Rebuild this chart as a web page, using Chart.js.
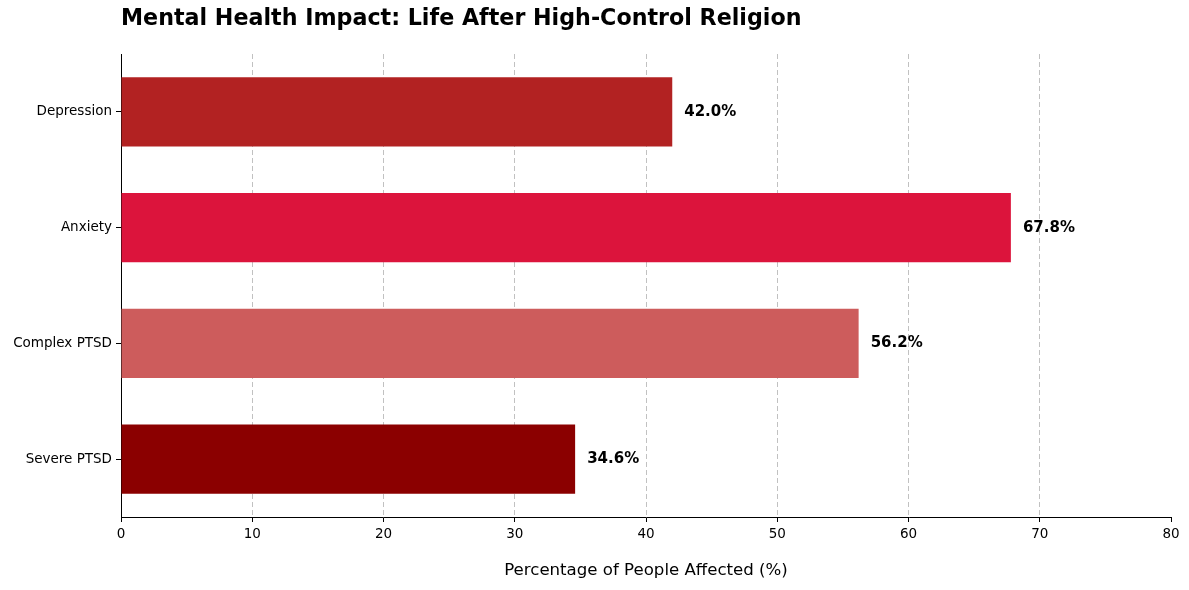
<!DOCTYPE html>
<html>
  <head>
    <meta charset="utf-8"/>
    <style type="text/css">
      body { margin: 0; padding: 0; background: #ffffff; }
      #wrap { width: 1189px; height: 590px; position: relative; }
    </style>
  </head>
  <body>
    <div id="wrap"><canvas id="chart"></canvas></div>
    <script src="https://cdn.jsdelivr.net/npm/chart.js@4/dist/chart.umd.min.js"></script>
    <script>
      var categories = ['Depression', 'Anxiety', 'Complex PTSD', 'Severe PTSD'];
      var percentages = [42.0, 67.8, 56.2, 34.6];
      var barColors = ['#B22222', '#DC143C', '#CD5C5C', '#8B0000'];
      var xTicks = [0, 10, 20, 30, 40, 50, 60, 70, 80];

      var FONT = "'DejaVu Sans', sans-serif";

      // title + value labels, drawn by hand like matplotlib does
      var textPlugin = {
        id: 'textPlugin',
        afterDatasetsDraw: function(chart) {
          var ctx = chart.ctx;
          var area = chart.chartArea;
          ctx.save();
          ctx.fillStyle = '#000';
          ctx.font = 'bold 22.2px ' + FONT;
          ctx.textAlign = 'left';
          ctx.textBaseline = 'middle';
          ctx.fillText('Mental Health Impact: Life After High-Control Religion', area.left, 19);

          ctx.font = 'bold 15px ' + FONT;
          var meta = chart.getDatasetMeta(0);
          meta.data.forEach(function(bar, i) {
            ctx.fillText(percentages[i].toFixed(1) + '%', bar.x + 12, bar.y);
          });
          ctx.restore();
        }
      };

      new Chart(document.getElementById('chart'), {
        type: 'bar',
        data: {
          labels: categories,
          datasets: [{
            data: percentages,
            backgroundColor: barColors,
            borderWidth: 0,
            categoryPercentage: 1.0,
            barPercentage: 0.6
          }]
        },
        options: {
          indexAxis: 'y',
          responsive: true,
          maintainAspectRatio: false,
          animation: false,
          layout: { padding: { top: 54, right: 18, left: 0, bottom: 0 } },
          plugins: {
            legend: { display: false },
            tooltip: { enabled: false },
            title: { display: false }
          },
          scales: {
            x: {
              type: 'linear',
              min: 0,
              max: 80,
              afterBuildTicks: function(axis) {
                axis.ticks = xTicks.map(function(v) { return { value: v }; });
              },
              afterFit: function(axis) { axis.height = 73; },
              ticks: {
                color: '#000',
                font: { family: FONT, size: 13.5 },
                padding: 4,
                maxRotation: 0
              },
              grid: {
                color: function(c) {
                  var v = c.tick ? c.tick.value : null;
                  return (v === 0 || v === 80) ? 'rgba(0,0,0,0)' : 'rgba(160,160,160,0.65)';
                },
                lineWidth: 1,
                tickColor: '#000',
                tickLength: 5,
                tickWidth: 1
              },
              border: { display: true, color: '#000', width: 1, dash: [5, 3] },
              title: {
                display: true,
                text: 'Percentage of People Affected (%)',
                color: '#000',
                font: { family: FONT, size: 16.6 },
                padding: { top: 4, bottom: 9 }
              }
            },
            y: {
              afterFit: function(axis) { axis.width = 121; },
              ticks: {
                color: '#000',
                font: { family: FONT, size: 13.5 },
                padding: 4
              },
              grid: {
                offset: false,
                drawOnChartArea: false,
                tickColor: '#000',
                tickLength: 5,
                tickWidth: 1
              },
              border: { display: true, color: '#000', width: 1 }
            }
          }
        },
        plugins: [textPlugin]
      });
    </script>
  </body>
</html>
